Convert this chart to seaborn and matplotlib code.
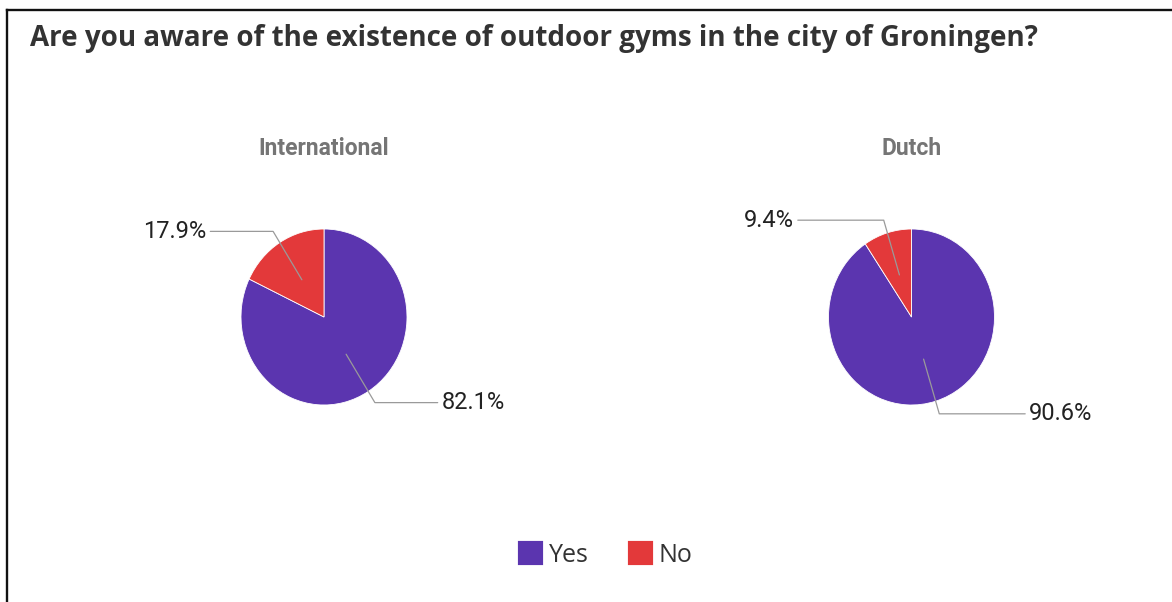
import numpy as np
import matplotlib
matplotlib.use("Agg")
import matplotlib.pyplot as plt
from matplotlib.lines import Line2D
from matplotlib.patches import Patch
import seaborn as sns

title = "Are you aware of the existence of outdoor gyms in the city of Groningen?"
groups = ["International", "Dutch"]
categories = ["Yes", "No"]
international = [82.1, 17.9]
dutch = [90.6, 9.4]
labels_int = ["82.1%", "17.9%"]
labels_dutch = ["90.6%", "9.4%"]

sns.set_theme(style="white")
colors = sns.color_palette(["#5B35AF", "#E3393A"])
plt.rcParams['font.family'] = ['Roboto', 'DejaVu Sans']

W, H = 1172, 602
fig = plt.figure(figsize=(W / 100, H / 100), dpi=100)
fig.patch.set_facecolor("white")

# frame border (left and top)
fig.add_artist(Line2D([7 / W, 7 / W], [0, 1 - 10 / H], transform=fig.transFigure,
                      color="#111111", lw=1.7, solid_capstyle="projecting"))
fig.add_artist(Line2D([7 / W, 1], [1 - 10 / H, 1 - 10 / H], transform=fig.transFigure,
                      color="#111111", lw=1.7, solid_capstyle="projecting"))

fig.text(30 / W, 1 - 46 / H, title, ha="left", va="baseline", fontsize=20,
         fontweight="bold", color="#333333", family=["Open Sans", "DejaVu Sans"])


def draw_pie(cx, cy, values, labels, name):
    rx, ry = 83, 88
    lim = 1.6
    w, h = 2 * lim * rx, 2 * lim * ry
    ax = fig.add_axes([(cx - w / 2) / W, (H - cy - h / 2) / H, w / W, h / H])
    wedges, _ = ax.pie(values, colors=colors, startangle=90, counterclock=False,
                       wedgeprops=dict(edgecolor="white", linewidth=0.6))
    ax.set_aspect("auto")
    ax.set_xlim(-lim, lim)
    ax.set_ylim(-lim, lim)
    ax.axis("off")
    for wdg, lab in zip(wedges, labels):
        ang = np.deg2rad((wdg.theta1 + wdg.theta2) / 2)
        c, s = np.cos(ang), np.sin(ang)
        sign = 1 if c >= 0 else -1
        p0 = (0.5 * c, 0.5 * s)
        p1 = (1.15 * c, 1.15 * s)
        p2 = (sign * 1.37, p1[1])
        ax.plot([p0[0], p1[0], p2[0]], [p0[1], p1[1], p2[1]], color="#9a9a9a",
                lw=0.9, clip_on=False, zorder=5)
        ax.text(sign * 1.42, p1[1], lab, ha="left" if sign > 0 else "right",
                va="center", fontsize=17, color="#222222", clip_on=False)
    fig.text(cx / W, 1 - 148 / H, name, ha="center", va="center", fontsize=16.5,
             fontweight="bold", color="#757575")
    return ax


draw_pie(324, 317, international, labels_int, groups[0])
draw_pie(911.5, 317, dutch, labels_dutch, groups[1])

handles = [Patch(facecolor=col, edgecolor=col, linewidth=3, joinstyle="round", label=cat)
           for col, cat in zip(colors, categories)]
leg = fig.legend(handles=handles, loc="center", bbox_to_anchor=(606 / W, 1 - 555 / H),
                 ncol=2, frameon=False, handlelength=0.85, handleheight=0.85,
                 handletextpad=0.3, columnspacing=1.65,
                 prop={"family": ["Open Sans", "DejaVu Sans"], "size": 18})
for t in leg.get_texts():
    t.set_color("#333333")

fig.savefig("out.png", dpi=100, facecolor="white")
